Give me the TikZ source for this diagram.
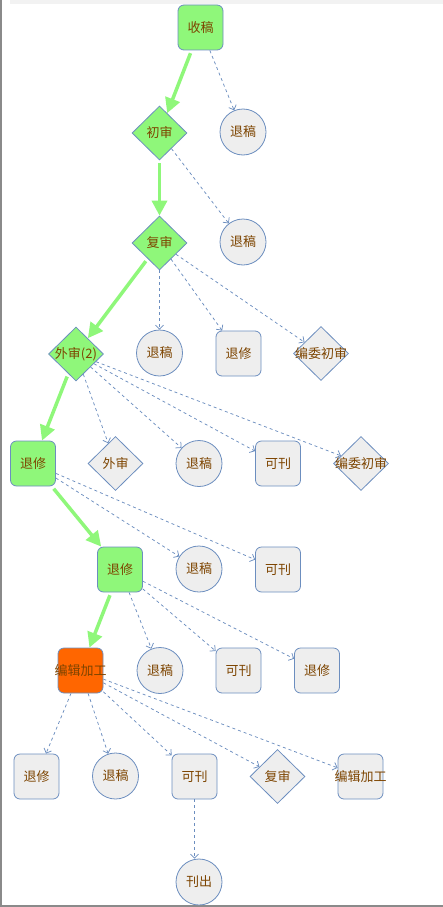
\documentclass[tikz,border=0pt]{standalone}
\usepackage{fontspec}
\setmainfont{Noto Sans CJK SC}
\usetikzlibrary{shapes.geometric,arrows.meta}
\definecolor{bd}{HTML}{6C8EBF}
\definecolor{gfill}{HTML}{8FF77A}
\definecolor{ofill}{HTML}{FF6600}
\definecolor{nfill}{HTML}{EEEEEE}
\definecolor{tc}{RGB}{125,68,0}
\definecolor{frm}{HTML}{8A8A8A}
\definecolor{strip}{HTML}{F2F2F2}
\newcommand{\lbl}[1]{\makebox[0pt]{#1}}
\tikzset{
  base/.style={draw=bd, line width=0.8pt, fill=nfill, inner sep=0pt, text=tc, font=\fontsize{13}{15}\selectfont},
  boxn/.style={base, rectangle, rounded corners=6pt, minimum width=45pt, minimum height=45pt},
  circn/.style={base, circle, minimum size=46pt},
  dian/.style={base, diamond, minimum width=55pt, minimum height=54pt},
  grn/.style={fill=gfill},
  org/.style={fill=ofill},
  gedge/.style={draw=gfill, line width=3.5pt, -{Triangle[length=15pt,width=15pt]}, shorten <=3pt},
  dedge/.style={draw=bd, line width=0.75pt, dash pattern=on 3pt off 3pt, -{Straight Barb[length=4pt,width=8pt]}}
}
\begin{document}
\begin{tikzpicture}[x=1pt,y=-1pt]
\useasboundingbox (0,0) rectangle (443,907);
\fill[strip] (10,0.5) rectangle (443,4.5);
\draw[frm, line width=1.2pt] (1,0) -- (1,906) -- (443,906);
% nodes
\node[boxn,grn] (n1) at (200.5,27.5) {\lbl{收稿}};
\node[dian,grn] (n2) at (159.5,133) {\lbl{初审}};
\node[circn] (n3) at (243,132) {\lbl{退稿}};
\node[dian,grn] (n4) at (159.5,243) {\lbl{复审}};
\node[circn] (n5) at (243,242) {\lbl{退稿}};
\node[dian,grn] (n6) at (76,354) {\lbl{外审(2)}};
\node[circn] (n7) at (159.5,353) {\lbl{退稿}};
\node[boxn] (n8) at (238.5,353.5) {\lbl{退修}};
\node[dian] (n9) at (321,353.5) {\lbl{编委初审}};
\node[boxn,grn] (n10) at (33,463.5) {\lbl{退修}};
\node[dian] (n11) at (115.5,463.5) {\lbl{外审}};
\node[circn] (n12) at (199,463.5) {\lbl{退稿}};
\node[boxn] (n13) at (278,463.5) {\lbl{可刊}};
\node[dian] (n14) at (361,463.5) {\lbl{编委初审}};
\node[boxn,grn] (n15) at (120,569.5) {\lbl{退修}};
\node[circn] (n16) at (199,569) {\lbl{退稿}};
\node[boxn] (n17) at (278,569.5) {\lbl{可刊}};
\node[boxn,org] (n18) at (80.5,670.5) {\lbl{编辑加工}};
\node[circn] (n19) at (160,670.5) {\lbl{退稿}};
\node[boxn] (n20) at (238.5,670.5) {\lbl{可刊}};
\node[boxn] (n21) at (317,670.5) {\lbl{退修}};
\node[boxn] (n22) at (36.5,776.5) {\lbl{退修}};
\node[circn] (n23) at (115.5,776) {\lbl{退稿}};
\node[boxn] (n24) at (194.5,776.5) {\lbl{可刊}};
\node[dian] (n25) at (277.5,776.5) {\lbl{复审}};
\node[boxn] (n26) at (360.5,776.5) {\lbl{编辑加工}};
\node[circn] (n27) at (199,882) {\lbl{刊出}};
% main flow
\draw[gedge] (n1) -- (n2);
\draw[gedge] (n2) -- (n4);
\draw[gedge] (n4) -- (n6);
\draw[gedge] (n6) -- (n10);
\draw[gedge] (n10) -- (n15);
\draw[gedge] (n15) -- (n18);
% dashed branches
\draw[dedge] (n1) -- (n3);
\draw[dedge] (n2) -- (n5);
\draw[dedge] (n4) -- (n7);
\draw[dedge] (n4) -- (n8);
\draw[dedge] (n4) -- (n9);
\draw[dedge] (n6) -- (n11);
\draw[dedge] (n6) -- (n12);
\draw[dedge] (n6) -- (n13);
\draw[dedge] (n6) -- (n14);
\draw[dedge] (n10) -- (n16);
\draw[dedge] (n10) -- (n17);
\draw[dedge] (n15) -- (n19);
\draw[dedge] (n15) -- (n20);
\draw[dedge] (n15) -- (n21);
\draw[dedge] (n18) -- (n22);
\draw[dedge] (n18) -- (n23);
\draw[dedge] (n18) -- (n24);
\draw[dedge] (n18) -- (n25);
\draw[dedge] (n18) -- (n26);
\draw[dedge] (n24.south) -- (n24.south |- n27.north);
\end{tikzpicture}
\end{document}
